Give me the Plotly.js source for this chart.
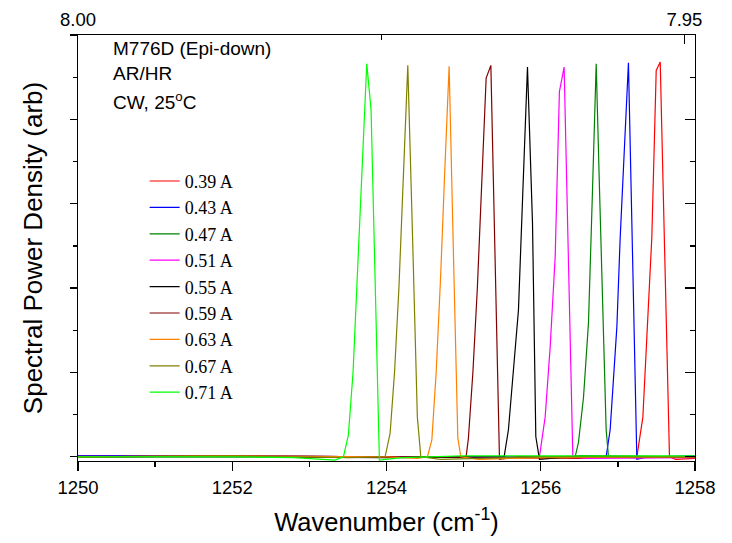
<!DOCTYPE html>
<html>
<head>
<meta charset="utf-8">
<script src="https://cdn.plot.ly/plotly-3.0.1.min.js"></script>
<style>html,body{margin:0;padding:0;background:#fff}#chart{width:732px;height:543px}</style>
</head>
<body>
<div id="chart"></div>
<script>
// Series labels and colors
const seriesNames = ["0.39 A","0.43 A","0.47 A","0.51 A","0.55 A","0.59 A","0.63 A","0.67 A","0.71 A"];
const seriesColors = ["#FF0000","#0000FF","#008000","#FF00FF","#000000","#800000","#FF8000","#808000","#00FF00"];

// Wavenumber (cm^-1) and spectral power density (arb)
const x039 = [1250,1252,1254,1255.5,1256.5,1257.0,1257.246,1257.324,1257.375,1257.44,1257.497,1257.549,1257.61,1257.669,1257.75,1258];
const y039 = [0.01,0.01,0.0,-0.01,-0.02,0.0,0.0,0.47,1.47,2.6,4.58,4.68,2.3,0.0,-0.03,-0.02];

const x043 = [1250,1252,1254,1255.5,1256.5,1256.848,1256.900,1256.987,1257.03,1257.082,1257.137,1257.19,1257.246,1257.4,1258];
const y043 = [0.01,0.01,0,0,-0.01,0,0.32,1.54,2.6,3.64,4.67,2.4,-0.03,0.0,0.01];

const x047 = [1250,1252,1254,1255.5,1256.3,1256.446,1256.489,1256.554,1256.619,1256.669,1256.719,1256.758,1256.803,1256.848,1256.878,1257.2,1258];
const y047 = [0.0,0.01,0.0,-0.01,-0.01,0,0.17,0.7,1.59,3.1,4.66,3.3,1.8,0.32,0,-0.01,0];

const x051 = [1250,1252,1254,1255.5,1255.9,1255.983,1256.057,1256.122,1256.187,1256.242,1256.303,1256.36,1256.416,1256.6,1258];
const y051 = [0,0.01,0,-0.01,0,0,0.47,1.3,2.37,4.33,4.62,2.4,0,-0.02,-0.01];

const x055 = [1250,1252,1254,1255.3,1255.525,1255.581,1255.646,1255.711,1255.77,1255.828,1255.893,1255.936,1255.983,1256.5,1258];
const y055 = [0,0,-0.01,0,0,0.32,1.0,1.74,3.2,4.62,2.77,0.24,-0.03,0.01,0];

const x059 = [1250,1252,1254,1254.8,1255.032,1255.062,1255.12,1255.178,1255.235,1255.292,1255.353,1255.41,1255.465,1255.7,1258];
const y059 = [0,0.01,0,0,0,0.22,1.0,2.0,3.2,4.49,4.64,2.3,-0.03,0,0];

const x063 = [1250,1252,1254,1254.4,1254.531,1254.588,1254.644,1254.70,1254.756,1254.812,1254.868,1254.925,1254.964,1255.2,1256,1258];
const y063 = [0,0.01,0,-0.02,0,0.2,1.0,2.1,3.4,4.63,2.4,0.22,0,-0.03,-0.01,0];

const x067 = [1250,1252,1253.5,1253.982,1254.047,1254.104,1254.161,1254.219,1254.276,1254.338,1254.40,1254.445,1254.7,1256,1258];
const y067 = [0,0.01,-0.01,0,0.28,1.0,2.0,3.3,4.64,2.6,0.47,0,-0.03,0,0];

const x071 = [1250,1251,1252,1252.8,1253.2,1253.33,1253.441,1253.506,1253.566,1253.625,1253.685,1253.744,1253.80,1253.86,1253.908,1254.2,1255,1256,1257,1258];
const y071 = [0,0,0,-0.01,-0.03,-0.04,0,0.26,1.0,2.2,3.5,4.66,4.11,1.8,-0.04,-0.01,0.01,0.01,0.01,0.01];

const seriesX = [x039,x043,x047,x051,x055,x059,x063,x067,x071];
const seriesY = [y039,y043,y047,y051,y055,y059,y063,y067,y071];

// Axis ticks
const xTickVals = [1250,1252,1254,1256,1258];
const topTickVals = [8.00,7.95];            // wavelength (um) on the top axis
const topTickText = ["8.00","7.95"];
const topMinorVals = [7.975];

const FONT = 'Liberation Sans, Arial, sans-serif';
const xRange = [1250,1258];
const topRange = [10000/xRange[0], 10000/xRange[1]];

const traces = seriesNames.map((name,i)=>({
  type:'scatter', mode:'lines', name:name,
  x:seriesX[i], y:seriesY[i],
  line:{color:seriesColors[i], width:1.2}
}));
// empty traces so that the top and right frame axes are drawn
traces.push({type:'scatter',mode:'lines',x:[],y:[],xaxis:'x2',yaxis:'y',showlegend:false,hoverinfo:'skip'});
traces.push({type:'scatter',mode:'lines',x:[],y:[],xaxis:'x',yaxis:'y2',showlegend:false,hoverinfo:'skip'});

const layout = {
  width:732, height:543,
  margin:{l:78,r:37,t:35,b:82},
  paper_bgcolor:'#fff', plot_bgcolor:'#fff',
  showlegend:true,
  legend:{x:0.108,y:0.70,xanchor:'left',yanchor:'top',bgcolor:'rgba(0,0,0,0)',
    font:{family:'Liberation Serif, Times New Roman, serif',size:18,color:'#000'},traceorder:'normal'},
  xaxis:{range:xRange,tickvals:xTickVals,ticks:'outside',ticklen:9,tickwidth:1.3,tickcolor:'#000',
    minor:{dtick:1,tick0:1250,ticks:'outside',ticklen:5,tickwidth:1.3,tickcolor:'#000'},
    showline:true,linecolor:'#000',linewidth:1.3,showgrid:false,zeroline:false,
    tickfont:{family:FONT,size:18.5,color:'#000'},
    title:{text:'Wavenumber (cm<sup>-1</sup>)',font:{family:FONT,size:25.5,color:'#000'},standoff:16}},
  xaxis2:{overlaying:'x',side:'top',anchor:'y',range:topRange,tickmode:'array',tickvals:topTickVals,ticktext:topTickText,
    ticks:'inside',ticklen:9,tickwidth:1.3,tickcolor:'#000',
    minor:{tickmode:'array',tickvals:topMinorVals,ticks:'inside',ticklen:5,tickwidth:1.3,tickcolor:'#000'},
    showline:true,linecolor:'#000',linewidth:1.3,showgrid:false,zeroline:false,
    tickfont:{family:FONT,size:18.5,color:'#000'}},
  yaxis:{range:[-0.05,5],tickmode:'linear',tick0:0,dtick:1,ticks:'outside',ticklen:7,tickwidth:1.3,tickcolor:'#000',
    minor:{dtick:0.5,tick0:0,ticks:'outside',ticklen:4,tickwidth:1.3,tickcolor:'#000'},
    showticklabels:false,showline:true,linecolor:'#000',linewidth:1.3,showgrid:false,zeroline:false,
    title:{text:'Spectral Power Density (arb)',font:{family:FONT,size:26,color:'#000'},standoff:19}},
  yaxis2:{overlaying:'y',side:'right',anchor:'x',range:[-0.05,5],tickmode:'linear',tick0:0,dtick:1,
    ticks:'inside',ticklen:10,tickwidth:1.3,tickcolor:'#000',
    minor:{dtick:0.5,tick0:0,ticks:'inside',ticklen:5,tickwidth:1.3,tickcolor:'#000'},
    showticklabels:false,showline:true,linecolor:'#000',linewidth:1.3,showgrid:false,zeroline:false},
  annotations:[
    {xref:'paper',yref:'paper',x:0.054,y:0.968,xanchor:'left',yanchor:'middle',showarrow:false,text:'M776D (Epi-down)',font:{family:FONT,size:19,color:'#000'}},
    {xref:'paper',yref:'paper',x:0.054,y:0.909,xanchor:'left',yanchor:'middle',showarrow:false,text:'AR/HR',font:{family:FONT,size:19,color:'#000'}},
    {xref:'paper',yref:'paper',x:0.054,y:0.845,xanchor:'left',yanchor:'middle',showarrow:false,text:'CW, 25<sup>o</sup>C',font:{family:FONT,size:19,color:'#000'}}
  ]
};

Plotly.newPlot('chart', traces, layout, {displayModeBar:false, staticPlot:true});
</script>
</body>
</html>
